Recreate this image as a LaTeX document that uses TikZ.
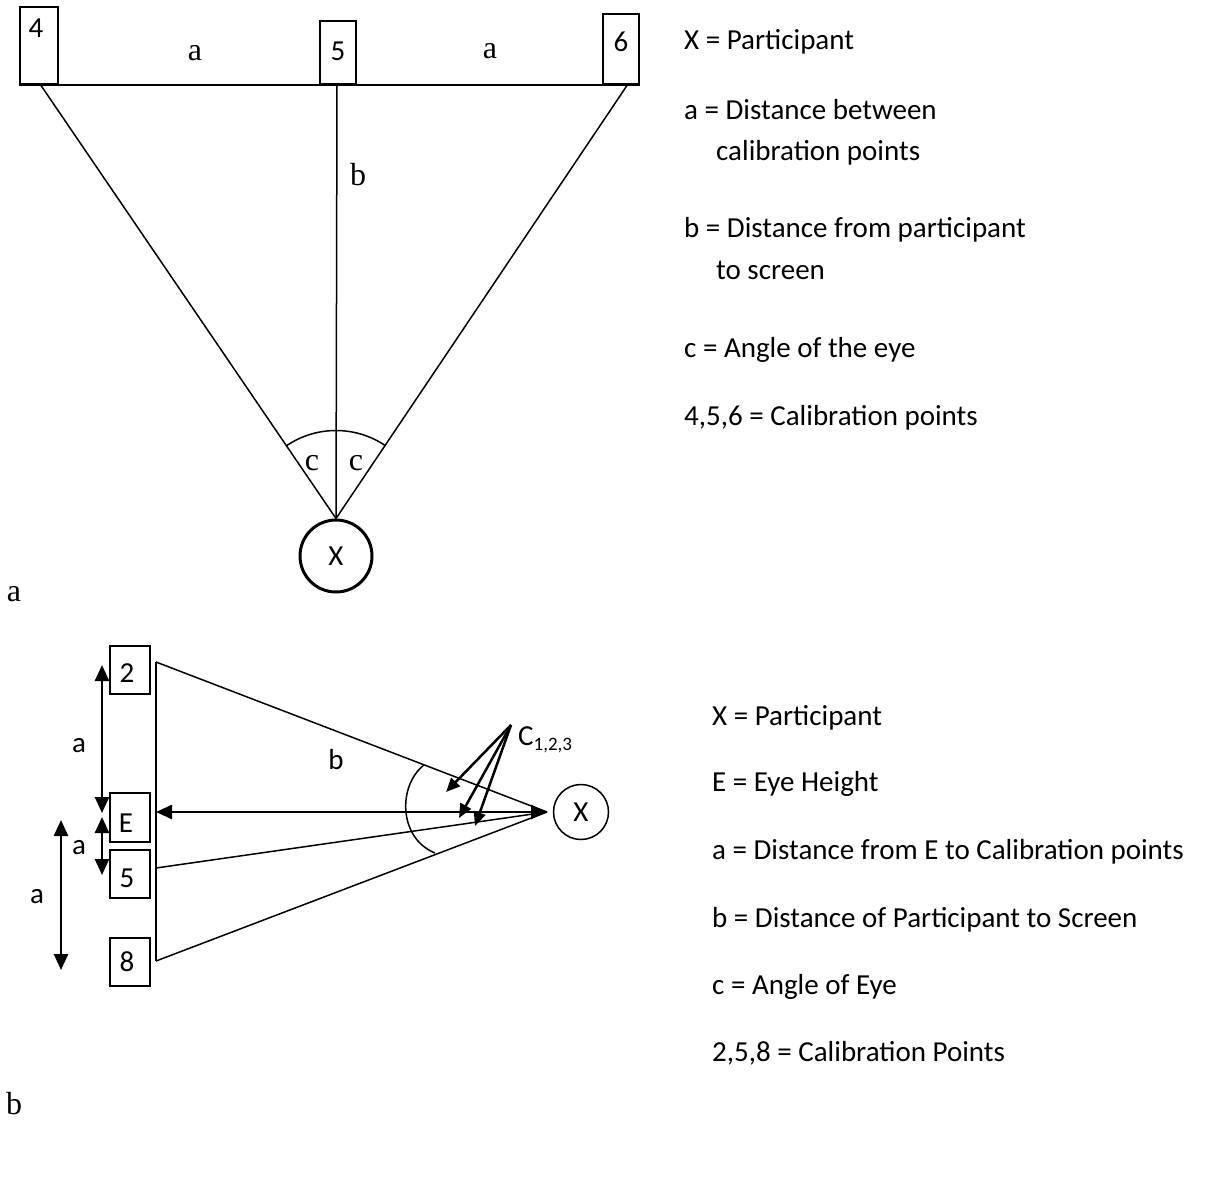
\documentclass[tikz,border=0pt]{standalone}
\usepackage{fontspec}
\newfontfamily\calib{Carlito}
\newfontfamily\serf{Liberation Serif}
\usetikzlibrary{arrows.meta}
\begin{document}
\begin{tikzpicture}[x=1pt,y=-1pt,
  box/.style={draw,line width=2pt,inner sep=0pt},
  cal/.style={font=\calib\fontsize{29}{34}\selectfont,inner sep=0pt},
  ser/.style={font=\serf\fontsize{32}{38}\selectfont,inner sep=0pt},
  leg/.style={cal,anchor=base west},
  ln/.style={line width=1.5pt},
  dbl/.style={line width=2.5pt,{Triangle[length=16pt,width=14pt]}-{Triangle[length=16pt,width=14pt]}},
  carrow/.style={line width=2.5pt,-{Triangle[length=14pt,width=12pt]}},
  ]
\useasboundingbox (0,0) rectangle (1209,1183);

% ---------- top diagram ----------
\node[box,minimum width=38pt,minimum height=77pt] (b4) at (39,45.5) {};
\node[box,minimum width=36pt,minimum height=63pt] (b5) at (338,52.5) {};
\node[box,minimum width=36pt,minimum height=70pt] (b6) at (621,49) {};
\node[cal] (t4) at (36,28) {4};
\node[cal] (t5) at (338,51) {5};
\node[cal] (t6) at (621,42) {6};
\draw[line width=2pt] (b4.south west) -- (b6.south east);

\node[draw,circle,line width=3pt,minimum size=72pt,inner sep=0pt,cal] (X1) at (336,556) {X};
\coordinate (p4) at (40,84);
\coordinate (p5) at (337,84);
\coordinate (p6) at (628,84);
\draw[ln] (p4) -- (X1.north);
\draw[ln] (p5) -- (X1.north);
\draw[ln] (p6) -- (X1.north);
\draw[ln] (X1.north) ++(-124.3:88) arc[start angle=-124.3,end angle=-55.7,radius=88];

\node[ser] (la1) at (195,53) {a};
\node[ser] (la2) at (490,51) {a};
\node[ser] (lb) at (358,175) {b};
\node[ser] (lc1) at (312,463) {c};
\node[ser] (lc2) at (356,463) {c};

\node[leg] (g1) at (684,49) {X = Participant};
\node[leg] (g2) at (684,119) {a = Distance between};
\node[leg] (g3) at (716,160) {calibration points};
\node[leg] (g4) at (684,237) {b = Distance from participant};
\node[leg] (g5) at (716,279) {to screen};
\node[leg] (g6) at (684,357) {c = Angle of the eye};
\node[leg] (g7) at (684,425) {4,5,6 = Calibration points};

\node[ser] (pa) at (14,594) {a};

% ---------- bottom diagram ----------
\node[box,minimum width=40pt,minimum height=48pt] (c2) at (130,670) {};
\node[box,minimum width=40pt,minimum height=49pt] (cE) at (130,817.5) {};
\node[box,minimum width=40pt,minimum height=48pt] (c5) at (130,874) {};
\node[box,minimum width=40pt,minimum height=48pt] (c8) at (130,962) {};
\node[cal] (u2) at (127,673) {2};
\node[cal] (uE) at (126,823) {E};
\node[cal] (u5) at (127,878) {5};
\node[cal] (u8) at (127,962) {8};

\coordinate (s1) at (156,662);
\coordinate (sE) at (156,812);
\coordinate (s2) at (156,868);
\coordinate (s3) at (156,961);
\coordinate (A) at (547,812);
\draw[ln] (s1) -- (s3);
\draw[ln] (s1) -- (A);
\draw[ln] (s2) -- (A);
\draw[ln] (s3) -- (A);
\draw[dbl] (sE) -- (A);

\node[draw,circle,line width=1.5pt,minimum size=55pt,inner sep=0pt,cal] (X2) at (581,812) {X};

\coordinate (v1a) at (102,665);
\coordinate (v1b) at (102,813);
\coordinate (v2a) at (102,817);
\coordinate (v2b) at (102,875);
\coordinate (v3a) at (61,820);
\coordinate (v3b) at (61,970);
\draw[dbl] (v1a) -- (v1b);
\draw[dbl] (v2a) -- (v2b);
\draw[dbl] (v3a) -- (v3b);
\node[cal] (da1) at (79,746) {a};
\node[cal] (da2) at (79,848) {a};
\node[cal] (da3) at (37,897) {a};
\node[cal] (db) at (336,760) {b};

\coordinate (O) at (511,725);
\coordinate (T1) at (446,792);
\coordinate (T2) at (459,818);
\coordinate (T3) at (475,826);
\draw[carrow] (O) -- (T1);
\draw[carrow] (O) -- (T2);
\draw[carrow] (O) -- (T3);
\node[cal,anchor=west] (CL) at (518,740) {C{\fontsize{19}{20}\selectfont\raisebox{-5pt}{1,2,3}}};

\draw[ln] (424,765) .. controls (398,785) and (398,838) .. (435,853);

\node[leg] (h1) at (712,725) {X = Participant};
\node[leg] (h2) at (712,791) {E = Eye Height};
\node[leg] (h3) at (712,859) {a = Distance from E to Calibration points};
\node[leg] (h4) at (712,927) {b = Distance of Participant to Screen};
\node[leg] (h5) at (712,994) {c = Angle of Eye};
\node[leg] (h6) at (712,1061) {2,5,8 = Calibration Points};

\node[ser] (pb) at (14,1104) {b};
\end{tikzpicture}
\end{document}
